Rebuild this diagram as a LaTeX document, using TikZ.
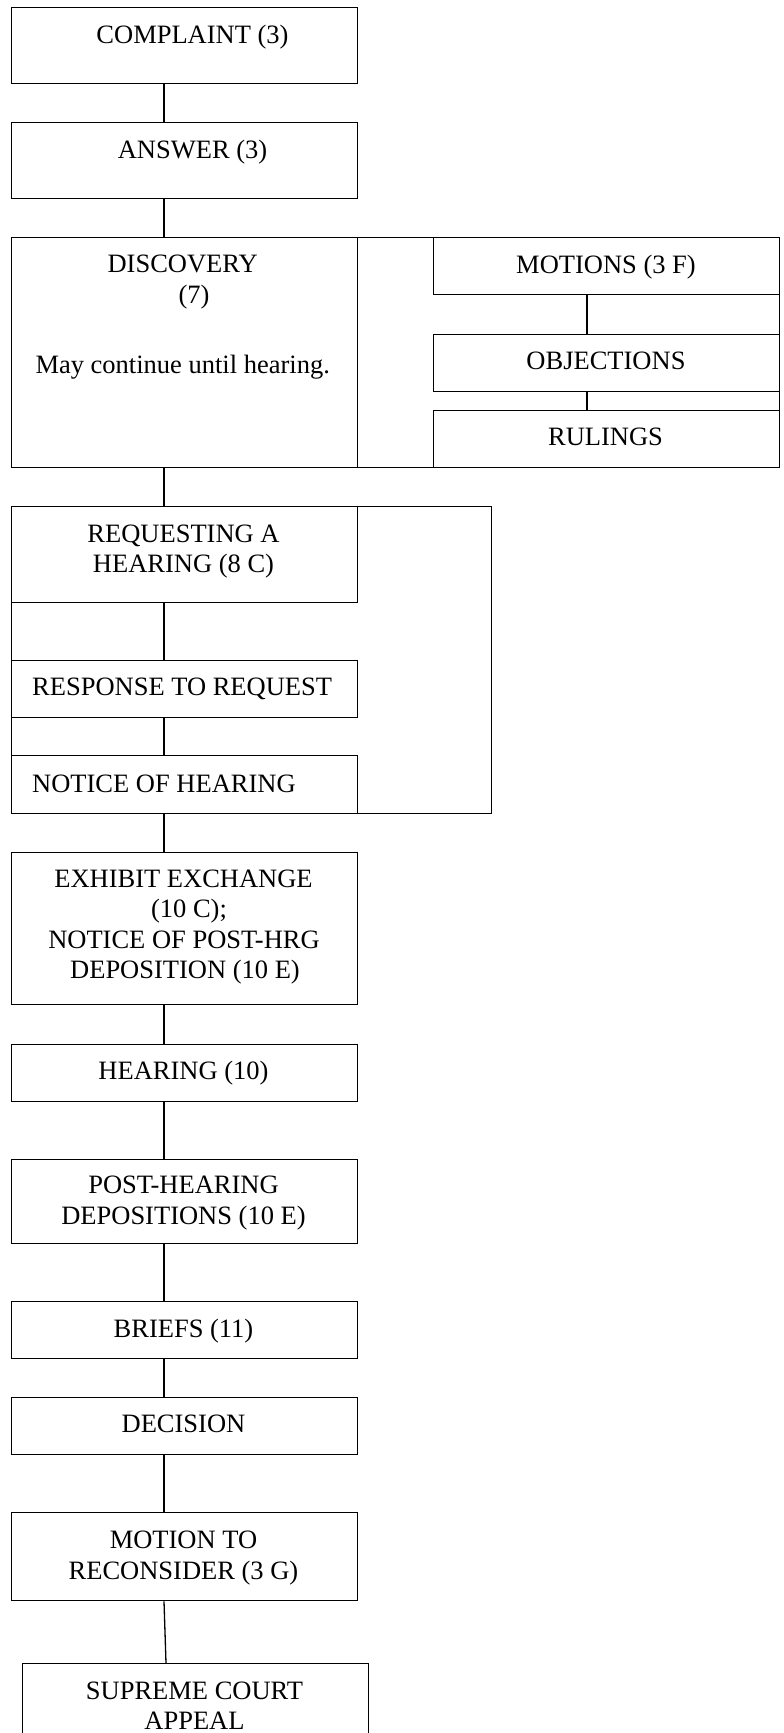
\documentclass[tikz,border=0pt]{standalone}
\usepackage{fontspec}
\setmainfont{Liberation Serif}
\begin{document}
\begin{tikzpicture}[x=1pt,y=-1pt,
  box/.style={draw, line width=1.3pt, inner sep=0pt, anchor=north west, minimum width=346pt},
  rbox/.style={box, minimum width=346.5pt, minimum height=57pt},
  txt/.style={anchor=base, inner sep=0pt, font=\fontsize{26.5}{31}\selectfont},
  ltxt/.style={txt, anchor=base west},
  link/.style={line width=1.3pt}]
\useasboundingbox (0,0) rectangle (784,1733);

% spines for connectors
\coordinate (spine) at (164,0);
\coordinate (spinetwo) at (166,0);
\coordinate (mspine) at (587,0);

% boxes
\node[box, minimum height=76pt] (complaint) at (10.5,7) {};
\node[box, minimum height=76pt] (answer) at (10.5,122) {};
\node[box, minimum width=768.5pt, minimum height=230pt] (discgroup) at (10.5,237) {};
\node[box, minimum height=230pt] (discovery) at (10.5,237) {};
\node[rbox] (motions) at (432.5,237) {};
\node[rbox] (objections) at (432.5,333.5) {};
\node[rbox, minimum height=57.5pt] (rulings) at (432.5,409.5) {};
\node[box, minimum width=480.5pt, minimum height=307pt] (hrgroup) at (10.5,506) {};
\node[box, minimum height=96pt] (requesting) at (10.5,506) {};
\node[box, minimum height=57pt] (response) at (10.5,660) {};
\node[box, minimum height=58pt] (notice) at (10.5,755) {};
\node[box, minimum height=152pt] (exhibit) at (10.5,852) {};
\node[box, minimum height=57pt] (hearing) at (10.5,1044) {};
\node[box, minimum height=84pt] (posthearing) at (10.5,1159) {};
\node[box, minimum height=57pt] (briefs) at (10.5,1301) {};
\node[box, minimum height=57pt] (decision) at (10.5,1397) {};
\node[box, minimum height=88pt] (motionrec) at (10.5,1512) {};
\node[box, minimum width=346.5pt, minimum height=100pt] (supreme) at (21.5,1663) {};

% connectors
\draw[link] (complaint.south -| spine) -- (answer.north -| spine);
\draw[link] (answer.south -| spine) -- (discovery.north -| spine);
\draw[link] (motions.south -| mspine) -- (objections.north -| mspine);
\draw[link] (objections.south -| mspine) -- (rulings.north -| mspine);
\draw[link] (discovery.south -| spine) -- (requesting.north -| spine);
\draw[link] (requesting.south -| spine) -- (response.north -| spine);
\draw[link] (response.south -| spine) -- (notice.north -| spine);
\draw[link] (notice.south -| spine) -- (exhibit.north -| spine);
\draw[link] (exhibit.south -| spine) -- (hearing.north -| spine);
\draw[link] (hearing.south -| spine) -- (posthearing.north -| spine);
\draw[link] (posthearing.south -| spine) -- (briefs.north -| spine);
\draw[link] (briefs.south -| spine) -- (decision.north -| spine);
\draw[link] (decision.south -| spine) -- (motionrec.north -| spine);
\draw[link] (motionrec.south -| spine) -- (supreme.north -| spinetwo);

% texts
\node[txt] (tcomplaint) at (192.5,43.3) {COMPLAINT (3)};
\node[txt] (tanswer) at (192.5,158.3) {ANSWER (3)};
\node[txt] (tdisc1) at (182.7,272) {DISCOVERY};
\node[txt] (tdisc2) at (194,303.5) {(7)};
\node[txt] (tdisc3) at (182.7,373) {May continue until hearing.};
\node[txt] (tmotions) at (606,273) {MOTIONS (3 F)};
\node[txt] (tobjections) at (606,369) {OBJECTIONS};
\node[txt] (trulings) at (605.5,445.5) {RULINGS};
\node[txt] (treq1) at (183.5,542) {REQUESTING A};
\node[txt] (treq2) at (183.5,572.5) {HEARING (8 C)};
\node[ltxt] (tresponse) at (32,695) {RESPONSE TO REQUEST};
\node[ltxt] (tnotice) at (32,792) {NOTICE OF HEARING};
\node[txt] (tex1) at (183.5,887) {EXHIBIT EXCHANGE};
\node[txt] (tex2) at (189,917.5) {(10 C);};
\node[txt] (tex3) at (184,948) {NOTICE OF POST-HRG};
\node[txt] (tex4) at (185,978.5) {DEPOSITION (10 E)};
\node[txt] (thearing) at (183.5,1079) {HEARING (10)};
\node[txt] (tpost1) at (183.5,1193.5) {POST-HEARING};
\node[txt] (tpost2) at (183.5,1224.5) {DEPOSITIONS (10 E)};
\node[txt] (tbriefs) at (183.5,1337) {BRIEFS (11)};
\node[txt] (tdecision) at (183.5,1432.5) {DECISION};
\node[txt] (tmot1) at (183.5,1548) {MOTION TO};
\node[txt] (tmot2) at (183.5,1579) {RECONSIDER (3 G)};
\node[txt] (tsup1) at (194.5,1699) {SUPREME COURT};
\node[txt] (tsup2) at (194.5,1729) {APPEAL};
\end{tikzpicture}
\end{document}
